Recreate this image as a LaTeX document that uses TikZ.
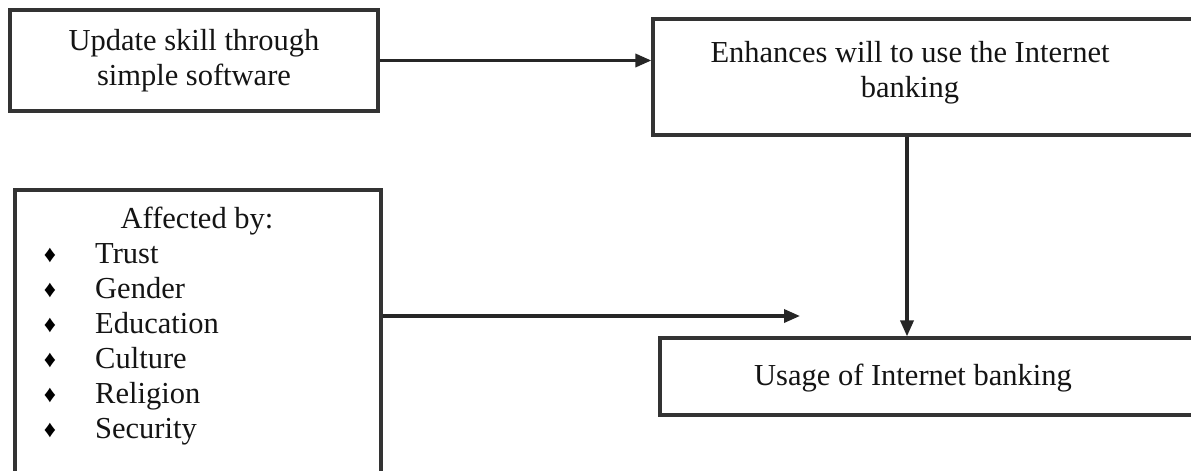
\documentclass[tikz,border=0pt]{standalone}
\usepackage{fontspec}
\setmainfont{Liberation Serif}
\usetikzlibrary{arrows.meta}
\begin{document}
\begin{tikzpicture}[x=1pt,y=-1pt,
  boxline/.style={draw=black!80,line width=3.2pt},
  txt/.style={font=\fontsize{30.5}{35}\selectfont,inner sep=0pt,text=black!92},
  conn/.style={draw=black!85,line width=3.4pt,-{Triangle[length=16pt,width=13pt]}},
  bul/.style={font=\fontsize{24}{24}\selectfont,inner sep=0pt,text=black}]
\useasboundingbox (0,0) rectangle (1191,471);
\fill[white] (0,0) rectangle (1191,471);
\clip (0,0) rectangle (1191,471);
% boxes
\node[boxline,minimum width=368pt,minimum height=101pt,inner sep=0pt,txt,align=center] (A) at (194,60.5) {Update skill through\\simple software};
\node[boxline,minimum width=560pt,minimum height=116pt,inner sep=0pt] (B) at (933,77) {};
\node[txt,align=center] (Btext) at (910,73) {Enhances will to use the Internet\\banking};
\node[boxline,minimum width=560pt,minimum height=77pt,inner sep=0pt] (C) at (940,376.5) {};
\node[txt,anchor=base] (Ctext) at (913,385) {Usage of Internet banking};
\node[boxline,minimum width=366pt,minimum height=320pt,inner sep=0pt] (D) at (198,350) {};
\node[txt,anchor=base] (Dhead) at (197,228) {Affected by:};
\foreach \t [count=\i] in {Trust,Gender,Education,Culture,Religion,Security}{
  \node[bul,anchor=base] (b\i) at (50,{228+35*\i-1}) {♦};
  \node[txt,anchor=base west] (d\i) at (95,{228+35*\i}) {\t};
}
% connectors
\coordinate (vx) at (907,0);
\coordinate (p2) at (800,316);
\draw[conn] (A.east) -- (A.east -| B.west);
\draw[conn] (B.south -| vx) -- (C.north -| vx);
\draw[conn] (p2 -| D.east) -- (p2);
\end{tikzpicture}
\end{document}
